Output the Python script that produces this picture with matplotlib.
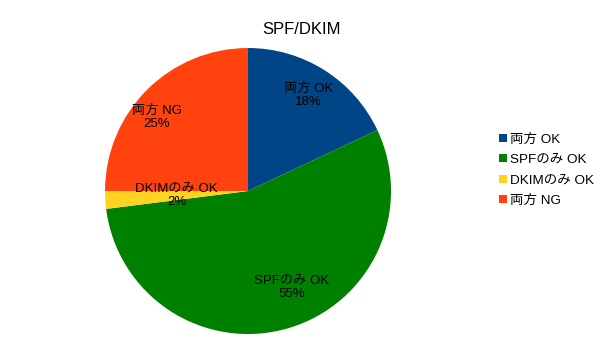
import matplotlib
matplotlib.use("Agg")
import matplotlib.pyplot as plt
from matplotlib.lines import Line2D
import numpy as np

plt.rcParams['font.family'] = ['Liberation Sans', 'Noto Sans CJK JP', 'DejaVu Sans']

title = "SPF/DKIM"
categories = ["両方 OK", "SPFのみ OK", "DKIMのみ OK", "両方 NG"]
values = [18, 55, 2, 25]
colors = ["#004586", "#008000", "#ffd320", "#ff420e"]
label_dist = [0.79, 0.74, 0.50, 0.82]
label_angle_shift = [0, 8, 0, 6]

fig = plt.figure(figsize=(6.05, 3.4), dpi=100)
ax = fig.add_axes([0.1736, 0.0176, 0.4727, 0.8412])
wedges, _ = ax.pie(values, colors=colors, startangle=90, counterclock=False,
                   radius=1.0, wedgeprops=dict(linewidth=0))
ax.set_xlim(-1, 1)
ax.set_ylim(-1, 1)
ax.set_aspect('equal')
ax.axis('off')

total = sum(values)
for w, cat, v, d, s in zip(wedges, categories, values, label_dist, label_angle_shift):
    ang = np.deg2rad((w.theta1 + w.theta2) / 2 + s)
    x, y = d * np.cos(ang), d * np.sin(ang)
    ax.text(x, y, f"{cat}\n{round(100*v/total)}%", ha='center', va='center',
            fontsize=9.5, linespacing=1.15)

fig.text(302/605, 1 - 29/340, title, ha='center', va='center', fontsize=12)

handles = [Line2D([0], [0], marker='s', linestyle='none', markersize=6,
                  markerfacecolor=c, markeredgewidth=0) for c in colors]
fig.legend(handles, categories, loc='center left', bbox_to_anchor=(499/605, 1 - 170/340),
           frameon=False, fontsize=9.7, handlelength=0.6, handletextpad=0.2,
           labelspacing=0.6, borderaxespad=0, borderpad=0)

fig.savefig("out.png", dpi=100)
